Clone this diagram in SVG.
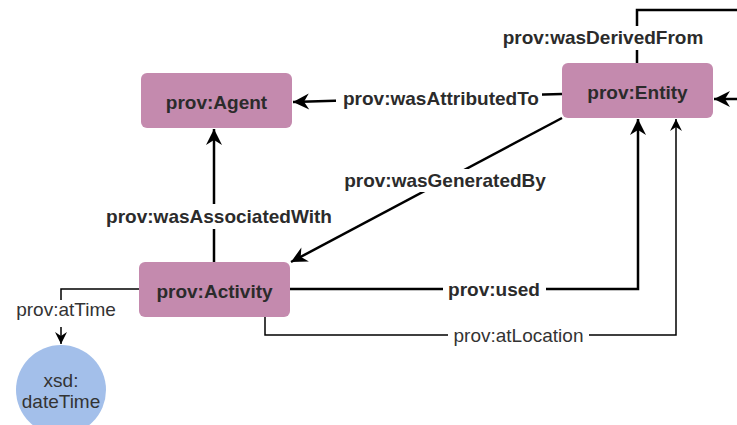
<svg xmlns="http://www.w3.org/2000/svg" width="737" height="425" viewBox="0 0 737 425">
  <style>
    .node { fill: #C48AAE; }
    .lit { fill: #A3BFEA; }
    .ntxt { font-family: "Liberation Sans", Arial, sans-serif; font-size: 19px; font-weight: bold; fill: #2b2b2b; text-anchor: middle; }
    .ltxt { font-family: "Liberation Sans", Arial, sans-serif; font-size: 19px; fill: #333; text-anchor: middle; }
    .lbold { font-weight: bold; fill: #2b2b2b; }
    .thick { fill: none; stroke: #000; stroke-width: 2.5; }
    .thin { fill: none; stroke: #000; stroke-width: 1.5; }
    .bg { fill: #fff; }
  </style>
  <defs>
    <marker id="arrowBig" markerUnits="userSpaceOnUse" markerWidth="18" markerHeight="18" refX="16" refY="8" orient="auto" overflow="visible">
      <path d="M0,0 L16,8 L0,16 L5,8 z" fill="#000"/>
    </marker>
    <marker id="arrowSmall" markerUnits="userSpaceOnUse" markerWidth="14" markerHeight="14" refX="12" refY="6" orient="auto" overflow="visible">
      <path d="M0,0 L12,6 L0,12 L4,6 z" fill="#000"/>
    </marker>
  </defs>

  <g id="connectors">
    <!-- wasDerivedFrom: self loop on Entity -->
    <path class="thick" d="M637,63 V10 H760 V99 H714" marker-end="url(#arrowBig)"/>
    <rect class="bg" x="500" y="26" width="207" height="24"/>
    <text class="ltxt lbold" x="603" y="44">prov:wasDerivedFrom</text>

    <!-- wasAttributedTo -->
    <path class="thick" d="M562,94 L293,102" marker-end="url(#arrowBig)"/>
    <rect class="bg" x="336" y="88" width="206" height="24"/>
    <text class="ltxt lbold" x="441" y="105">prov:wasAttributedTo</text>

    <!-- wasGeneratedBy -->
    <path class="thick" d="M562,118 L291,262" marker-end="url(#arrowBig)"/>
    <rect class="bg" x="341" y="169" width="208" height="23"/>
    <text class="ltxt lbold" x="445" y="187">prov:wasGeneratedBy</text>

    <!-- wasAssociatedWith -->
    <path class="thick" d="M214,262 V129" marker-end="url(#arrowBig)"/>
    <rect class="bg" x="102" y="204" width="234" height="25"/>
    <text class="ltxt lbold" x="219" y="223">prov:wasAssociatedWith</text>

    <!-- used -->
    <path class="thick" d="M290,289 H638 V119" marker-end="url(#arrowBig)"/>
    <rect class="bg" x="443" y="277" width="103" height="24"/>
    <text class="ltxt lbold" x="494" y="295.5">prov:used</text>

    <!-- atLocation -->
    <path class="thin" d="M265,317 V335 H676 V119" marker-end="url(#arrowSmall)"/>
    <rect class="bg" x="448" y="323" width="141" height="24"/>
    <text class="ltxt" x="518.5" y="341.5">prov:atLocation</text>

    <!-- atTime -->
    <path class="thin" d="M139,289 H61 V344" marker-end="url(#arrowSmall)"/>
    <rect class="bg" x="13" y="300" width="106" height="27"/>
    <text class="ltxt" x="66" y="316">prov:atTime</text>
  </g>

  <g id="agent">
    <rect class="node" x="141" y="73" width="151" height="55" rx="6"/>
    <text class="ntxt" x="216.5" y="109">prov:Agent</text>
  </g>

  <g id="entity">
    <rect class="node" x="562" y="63" width="151" height="55" rx="6"/>
    <text class="ntxt" x="637.5" y="99">prov:Entity</text>
  </g>

  <g id="activity">
    <rect class="node" x="139" y="262" width="151" height="55" rx="6"/>
    <text class="ntxt" x="214.5" y="298">prov:Activity</text>
  </g>

  <g id="datetime">
    <circle class="lit" cx="61" cy="390" r="45"/>
    <text class="ltxt" x="61" y="387">xsd:</text>
    <text class="ltxt" x="61" y="408">dateTime</text>
  </g>
</svg>
